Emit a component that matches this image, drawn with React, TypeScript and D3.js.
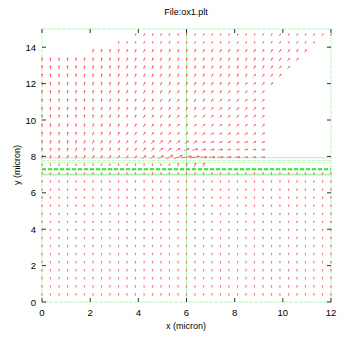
import React from "react";
import * as d3 from "d3";

const W = 355, H = 344;
const title = "File:ox1.plt";
const xLabel = "x (micron)";
const yLabel = "y (micron)";
const xTicks = [0, 2, 4, 6, 8, 10, 12];
const yTicks = [0, 2, 4, 6, 8, 10, 12, 14];

// grid columns (micron)
const xGrid = [0, 0.35, 0.71, 1.06, 1.41, 1.76, 2.12, 2.47, 2.82, 3.18, 3.53, 3.88, 4.24, 4.59, 4.94, 5.29, 5.65, 6.0, 6.35, 6.71, 7.06, 7.41, 7.76, 8.12, 8.47, 8.82, 9.18, 9.53, 9.88, 10.24, 10.59, 10.94, 11.29, 11.65, 12.0];

// row positions (micron), bottom to top
const rowY = [0.4, 0.84, 1.29, 1.73, 2.17, 2.62, 3.06, 3.5, 3.95, 4.39, 4.83, 5.28, 5.72, 6.16, 6.61, 7.05,
  7.53,
  7.96, 8.37, 8.78, 9.24, 9.7, 10.19, 10.61, 11.07, 11.53, 11.98, 12.44, 12.89, 13.32, 13.79, 14.25, 14.68];

// angle code per column (x10 degrees, '.' = no vector)
const LA = "99999999999999999999999999999999999";
const rowAngle = [LA, LA, LA, LA, LA, LA, LA, LA, LA, LA, LA, LA, LA, LA, LA, LA,
  "99999999999999888877...............",
  "888777666655443321100000000........",
  "988877766665554432111111111........",
  "988887776666555543322222222........",
  "988888777766665554433333333........",
  "998888777776666655444444444........",
  "998888877777666665555555555........",
  "999888877777766666655555555........",
  "999888887777776666666555555........",
  "999988887777777666666655555........",
  "9999888887777777666666665555.......",
  "99998888877777777666666665555......",
  "999998888877777777766666666555.....",
  "9999988888777777777766666666655....",
  "......88887777777777766666666666...",
  ".........777777777766666666666666..",
  "...........777777776666666666666666"];

// magnitude code per column (arbitrary units)
const LM = "22222222222222222222222222222222222";
const rowMag = [LM, LM, LM, LM, LM, LM, LM, LM, LM, LM, LM, LM, LM, LM, LM, LM,
  "22222222222222223344...............",
  "333333333333445789865544333........",
  "333333333333444445544433333........",
  "333333333333344444433333333........",
  "333333333333333333333333333........",
  "333333333333333333333333333........",
  "333333333333333333333333333........",
  "333333333333333333333333333........",
  "333333333333333333333333333........",
  "333333333333333333333333333........",
  "3333333333333333333333333333.......",
  "33333333333333333333333333333......",
  "333333333333333333333333333333.....",
  "3333333333333333333333333333333....",
  "......33333333333333333333333333...",
  ".........222222222222222222222222..",
  "...........222222222222222222222222"];

// material / layer boundary lines (micron)
const boundarySolid = [7.93, 7.0];
const boundaryDashedLight = [7.78, 7.65];
const boundaryMain = [7.3];
const verticalLine = [6];

export default function App() {
  const x = d3.scaleLinear().domain([0, 12]).range([42, 331]);
  const y = d3.scaleLinear().domain([0, 15]).range([302, 29]);
  const len = d3.scaleLinear().domain([0, 9]).range([0, 10]);

  const arrows: JSX.Element[] = [];
  rowY.forEach((yy, r) => {
    const a = rowAngle[r], m = rowMag[r];
    for (let k = 0; k < xGrid.length; k++) {
      const ca = a[k], cm = m[k];
      if (!ca || ca === "." || !cm || cm === ".") continue;
      const ang = (+ca * 10 * Math.PI) / 180;
      const L = len(+cm);
      const cx = x(xGrid[k]), cy = y(yy);
      const dx = Math.cos(ang) * L, dy = -Math.sin(ang) * L;
      const x0 = cx - dx / 2, y0 = cy - dy / 2, x1 = cx + dx / 2, y1 = cy + dy / 2;
      const h = Math.min(2, L * 0.4);
      const b1 = ang + Math.PI - 0.45, b2 = ang + Math.PI + 0.45;
      const d = `M${x0},${y0}L${x1},${y1}M${x1 + Math.cos(b1) * h},${y1 - Math.sin(b1) * h}L${x1},${y1}L${x1 + Math.cos(b2) * h},${y1 - Math.sin(b2) * h}`;
      arrows.push(<path key={`${r}-${k}`} d={d} stroke="#ff2a44" strokeWidth={0.75} fill="none" strokeOpacity={r > 16 ? 0.85 : 0.75} />);
    }
  });

  const font = "Liberation Sans, Arial, sans-serif";
  return (
    <svg width={W} height={H} style={{ position: "absolute", left: 0, top: 0, background: "#fff" }}>
      <rect x={0} y={0} width={W} height={H} fill="#fff" />
      {/* frame */}
      <rect x={42} y={29} width={289} height={273} fill="none" stroke="#b8f4b8" strokeWidth={1} strokeDasharray="4,1" />
      {verticalLine.map((v) => (
        <line key={v} x1={x(v)} x2={x(v)} y1={29} y2={302} stroke="#b0f4b0" strokeWidth={1} />
      ))}
      {boundarySolid.map((v, i) => (
        <line key={"s" + v} x1={42} x2={331} y1={y(v)} y2={y(v)} stroke="#b0f4b0" strokeWidth={i === 1 ? 2 : 1} />
      ))}
      {boundaryDashedLight.map((v) => (
        <line key={"d" + v} x1={42} x2={331} y1={y(v)} y2={y(v)} stroke="#c4f8c4" strokeWidth={1} strokeDasharray="4,1" />
      ))}
      {boundaryMain.map((v) => (
        <line key={"m" + v} x1={42} x2={331} y1={y(v)} y2={y(v)} stroke="#22ee22" strokeWidth={2} strokeDasharray="4,2" />
      ))}
      <g>{arrows}</g>
      {/* ticks */}
      {xTicks.map((t) => (
        <g key={"xt" + t}>
          <line x1={x(t)} x2={x(t)} y1={302} y2={298} stroke="#333" />
          <line x1={x(t)} x2={x(t)} y1={29} y2={33} stroke="#333" />
          <text x={x(t)} y={316} fontSize={9.5} fontFamily={font} textAnchor="middle">{t}</text>
        </g>
      ))}
      {yTicks.map((t) => (
        <g key={"yt" + t}>
          <line x1={42} x2={46} y1={y(t)} y2={y(t)} stroke="#333" />
          <line x1={331} x2={327} y1={y(t)} y2={y(t)} stroke="#333" />
          <text x={36} y={y(t) + 3.5} fontSize={9.5} fontFamily={font} textAnchor="end">{t}</text>
        </g>
      ))}
      <text x={186} y={15} fontSize={9} fontFamily={font} textAnchor="middle">{title}</text>
      <text x={186} y={329} fontSize={9} fontFamily={font} textAnchor="middle">{xLabel}</text>
      <text transform={`translate(20,165) rotate(-90)`} fontSize={9} fontFamily={font} textAnchor="middle">{yLabel}</text>
    </svg>
  );
}
